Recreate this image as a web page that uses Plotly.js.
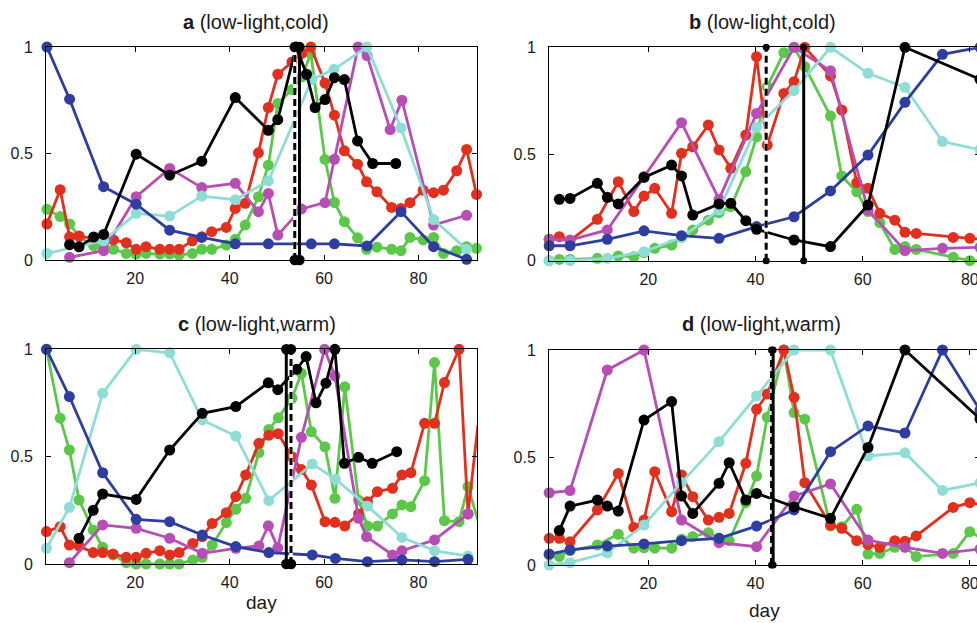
<!DOCTYPE html>
<html><head><meta charset="utf-8">
<script src="https://cdn.plot.ly/plotly-3.0.1.min.js"></script>
<style>html,body{margin:0;padding:0;overflow:hidden;background:#fff}#chart{width:990px;height:623px}</style>
</head><body><div id="chart"></div>
<script>
// ---------- Panel a (low-light, cold) ----------
const aWeekX = [1.3, 6.1, 13.3, 20.2, 27.3, 34.1, 41.2, 48.2, 57.3, 62.2, 69.1, 76.3, 83.2, 90.2];
const aBlue  = [1, 0.755, 0.344, 0.262, 0.14, 0.106, 0.076, 0.076, 0.076, 0.076, 0.066, 0.227, 0.0625, 0.003];
const aCyanX = [1.3, 13.3, 20.2, 27.3, 34.1, 41.2, 48.2, 57.4, 62.1, 69.1, 76.3, 83.2, 90.2];
const aCyan  = [0.031, 0.09, 0.219, 0.206, 0.3, 0.283, 0.371, 0.847, 0.895, 1.0, 0.62, 0.19, 0.05];
const aMagX  = [6.1, 13.3, 20.2, 27.3, 34.1, 41.2, 46.1, 48.2, 50.2, 55.2, 60.2, 62.2, 67.2, 69.1, 74.0, 76.5, 83.2, 90.2];
const aMag   = [0.0125, 0.044, 0.297, 0.43, 0.34, 0.36, 0.227, 0.3125, 0.117, 0.24, 0.269, 0.473, 1.0, 0.96, 0.612, 0.75, 0.164, 0.21];
const aBlackX = [6.1, 8.1, 11.2, 13.3, 20.2, 27.3, 34.1, 41.2, 48.2, 50.2, 54.1, 56.3, 58.1, 60.2, 62.2, 64.3, 67.1, 70.3, 75.2];
const aBlack  = [0.072, 0.062, 0.108, 0.12, 0.497, 0.398, 0.464, 0.7625, 0.609, 0.659, 1.0, 0.872, 0.716, 0.753, 0.856, 0.847, 0.559, 0.453, 0.453];
const aFastX = [1.3, 4.1, 6.1, 8.1, 11.2, 13.3, 15.4, 18.1, 20.2, 22.3, 25.2, 27.3, 29.3, 32.1, 34.1, 36.2, 39.3, 41.2, 43.3, 46.1, 48.2, 50.2, 53.2, 55.3, 57.2, 60.2, 62.2, 64.3, 67.1, 69.0, 71.2, 74.3, 76.3, 78.2, 81.0, 83.2, 85.3, 88.1, 90.2, 92.3];
const aRed   = [0.169, 0.33, 0.109, 0.1125, 0.1, 0.094, 0.094, 0.081, 0.05, 0.0625, 0.05, 0.05, 0.05, 0.09, 0.109, 0.133, 0.153, 0.242, 0.266, 0.503, 0.716, 0.872, 0.93, 0.97, 1.0, 0.83, 0.68, 0.5125, 0.45, 0.367, 0.32, 0.247, 0.242, 0.269, 0.328, 0.316, 0.328, 0.419, 0.519, 0.308];
const aGreen = [0.238, 0.204, 0.169, 0.11, 0.066, 0.06, 0.05, 0.031, 0.028, 0.031, 0.028, 0.028, 0.023, 0.031, 0.05, 0.05, 0.07, 0.097, 0.164, 0.297, 0.445, 0.735, 0.8, 0.86, 0.97, 0.472, 0.27, 0.18, 0.104, 0.05, 0.06, 0.05, 0.044, 0.106, 0.094, 0.106, 0.031, 0.044, 0.0625, 0.055];
const aDashedDay = 53.8, aSolidDay = 54.8;

// ---------- Panel b (low-light, cold) ----------
const bWeekX = [1.5, 5.4, 12.35, 19.2, 26.2, 33.2, 40.2, 47.2, 54.0, 61.0, 67.9, 74.9, 81.9];
const bBlue  = [0.07, 0.07, 0.1, 0.14, 0.117, 0.105, 0.16, 0.206, 0.327, 0.495, 0.742, 0.967, 1.0];
const bCyan  = [0, 0, 0.011, 0.042, 0.109, 0.2375, 0.625, 0.797, 1.0, 0.878, 0.8125, 0.558, 0.52];
const bMag   = [0.1, 0.097, 0.144, 0.395, 0.647, 0.2875, 0.69, 1.0, 0.89, 0.2375, 0.047, 0.058, 0.0625];
const bBlackX = [3.4, 5.4, 10.5, 12.35, 14.4, 19.2, 24.35, 26.2, 28.3, 33.2, 35.4, 38.2, 40.2, 47.2, 54.0, 61.0, 67.9, 81.9];
const bBlack  = [0.2875, 0.292, 0.3625, 0.297, 0.266, 0.39, 0.448, 0.397, 0.214, 0.266, 0.269, 0.1875, 0.147, 0.097, 0.066, 0.261, 1.0, 0.85];
const bFastX = [1.5, 3.4, 5.4, 10.5, 14.4, 17.3, 19.2, 21.2, 24.35, 26.2, 28.3, 31.2, 33.2, 35.4, 38.2, 40.2, 42.2, 45.3, 47.2, 49.2, 54.0, 56.1, 58.9, 61.0, 63.2, 66.0, 67.9, 70.0, 76.9, 80.0, 82.5];
const bRed   = [0.1, 0.1125, 0.094, 0.194, 0.37, 0.23, 0.303, 0.339, 0.222, 0.503, 0.534, 0.636, 0.519, 0.433, 0.589, 0.956, 0.542, 0.784, 0.839, 1.0, 0.866, 0.706, 0.366, 0.339, 0.222, 0.19, 0.133, 0.128, 0.109, 0.105, 0.1];
const bGreen = [0, 0.006, 0.006, 0.011, 0.022, 0.019, 0.0375, 0.058, 0.073, 0.109, 0.144, 0.19, 0.225, 0.253, 0.417, 0.58, 0.816, 0.975, 1.0, 0.909, 0.678, 0.397, 0.323, 0.23, 0.178, 0.053, 0.066, 0.053, 0.016, 0.0, 0.0];
const bDashedDay = 42.0, bSolidDay = 49.0;

// ---------- Panel c (low-light, warm) ----------
const cWeekX = [1.2, 6.05, 13.1, 20.2, 27.3, 34.2, 41.3, 48.3, 57.5, 62.4, 69.2, 76.5, 83.4, 90.5];
const cBlue  = [1.0, 0.78, 0.425, 0.208, 0.197, 0.135, 0.081, 0.053, 0.042, 0.026, 0.011, 0.019, 0.011, 0.022];
const cCyan  = [0.073, 0.264, 0.795, 1.0, 0.984, 0.671, 0.596, 0.295, 0.466, 0.395, 0.27, 0.124, 0.062, 0.037];
const cMagX  = [6.05, 13.1, 20.2, 27.3, 34.2, 41.3, 46.2, 48.2, 50.2, 55.2, 60.1, 62.3, 67.3, 69.0, 74.5, 76.5, 83.4, 90.5];
const cMag   = [0.006, 0.182, 0.166, 0.12, 0.05, 0.073, 0.084, 0.178, 0.075, 0.59, 1.0, 0.876, 0.213, 0.127, 0.042, 0.062, 0.112, 0.233];
const cBlackX = [8.1, 11.1, 13.1, 20.2, 27.3, 34.2, 41.3, 48.2, 50.2, 54.2, 56.2, 58.3, 60.4, 62.3, 64.3, 67.3, 70.2, 75.4];
const cBlack  = [0.12, 0.25, 0.326, 0.301, 0.531, 0.702, 0.733, 0.844, 0.812, 0.907, 0.966, 0.751, 0.842, 1.0, 0.469, 0.497, 0.469, 0.523];
const cFastX = [1.2, 4.1, 6.05, 8.1, 11.1, 13.1, 15.3, 18.1, 20.2, 22.3, 25.2, 27.3, 29.3, 32.2, 34.2, 36.3, 39.3, 41.3, 43.4, 46.2, 48.3, 50.3, 53.2, 55.2, 57.3, 60.2, 62.3, 64.4, 67.3, 69.2, 71.3, 74.5, 76.5, 78.4, 81.3, 83.4, 85.5, 88.6, 90.5, 92.6];
const cRed   = [0.151, 0.174, 0.0885, 0.084, 0.053, 0.053, 0.047, 0.031, 0.031, 0.05, 0.062, 0.042, 0.053, 0.096, 0.127, 0.189, 0.239, 0.314, 0.415, 0.562, 0.6, 0.607, 0.5, 0.44, 0.368, 0.197, 0.194, 0.177, 0.233, 0.29, 0.337, 0.3525, 0.415, 0.4255, 0.655, 0.655, 0.845, 1.0, 0.233, 0.648];
const cGreen = [1.0, 0.679, 0.531, 0.298, 0.158, 0.078, 0.042, 0.006, 0, 0, 0, 0, 0, 0.019, 0.031, 0.0885, 0.193, 0.255, 0.306, 0.519, 0.627, 0.681, 0.772, 0.888, 0.616, 0.546, 0.306, 0.825, 0.298, 0.177, 0.177, 0.233, 0.275, 0.267, 0.388, 0.938, 0.202, 0.197, 0.36, 0.202];
const cSolidDay = 52.0, cDashedDay = 53.0;

// ---------- Panel d (low-light, warm) ----------
const dWeekX = [1.5, 5.4, 12.35, 19.2, 26.2, 33.2, 40.2, 47.2, 54.0, 61.0, 67.9, 74.9, 81.9];
const dBlue  = [0.051, 0.07, 0.088, 0.098, 0.113, 0.124, 0.181, 0.256, 0.527, 0.647, 0.614, 1.0, 0.72];
const dCyan  = [0, 0.011, 0.057, 0.186, 0.383, 0.574, 0.786, 1.0, 1.0, 0.507, 0.522, 0.347, 0.382];
const dMag   = [0.336, 0.346, 0.907, 1.0, 0.209, 0.104, 0.085, 0.321, 0.377, 0.116, 0.082, 0.054, 0.074];
const dBlackX = [3.4, 5.4, 10.5, 12.35, 14.4, 19.2, 24.35, 26.2, 28.3, 33.2, 35.1, 38.2, 40.2, 47.2, 54.0, 61.0, 67.9, 81.9];
const dBlack  = [0.16, 0.274, 0.302, 0.274, 0.251, 0.674, 0.76, 0.321, 0.24, 0.38, 0.476, 0.302, 0.333, 0.271, 0.217, 0.547, 1.0, 0.68];
const dFastX = [1.5, 3.4, 5.4, 10.5, 14.4, 17.3, 19.2, 21.2, 24.35, 26.2, 28.3, 31.2, 33.2, 35.1, 38.2, 40.2, 42.2, 45.3, 47.2, 49.2, 54.0, 56.1, 58.9, 61.0, 63.2, 66.0, 67.9, 70.0, 76.9, 80.0, 82.5];
const dRed   = [0.124, 0.124, 0.108, 0.256, 0.426, 0.175, 0.209, 0.434, 0.248, 0.419, 0.318, 0.209, 0.222, 0.24, 0.473, 0.724, 0.795, 1.0, 0.78, 0.383, 0.186, 0.171, 0.113, 0.095, 0.082, 0.113, 0.11, 0.135, 0.268, 0.29, 0.28];
const dGreen = [0.047, 0.039, 0.067, 0.093, 0.143, 0.078, 0.08, 0.078, 0.078, 0.12, 0.132, 0.15, 0.124, 0.113, 0.29, 0.414, 0.687, 1.0, 0.709, 0.678, 0.181, 0.178, 0.259, 0.051, 0.054, 0.082, 0.085, 0.039, 0.054, 0.155, 0.12];
const dDashedDay = 43.0, dSolidDay = 43.3;

const vLineY = [0, 1];
const titles = ['<b>a</b> (low-light,cold)', '<b>b</b> (low-light,cold)', '<b>c</b> (low-light,warm)', '<b>d</b> (low-light,warm)'];
const xTicks = [20, 40, 60, 80];
const yTicks = [0, 0.5, 1];
const yTickText = ['0', '0.5', '1'];
const xLabel = 'day';

// ---------- styling ----------
const COL = {blue:'#2E3EA0', red:'#E2301E', green:'#5CC84A', mag:'#B84DB6', cyan:'#8EDDD6', black:'#000000'};
const W = 990, H = 623;
function series(x, y, color, ax, msize) {
  return {x:x, y:y, type:'scatter', mode:'lines+markers', xaxis:'x'+ax, yaxis:'y'+ax,
    cliponaxis:false, hoverinfo:'skip', showlegend:false,
    line:{color:color, width:2.8}, marker:{color:color, size:msize||11, line:{width:0}}};
}
function vline(day, ax, dashed, msize) {
  const out = [];
  if (dashed) {
    out.push({x:[day,day], y:vLineY, type:'scatter', mode:'lines', xaxis:'x'+ax, yaxis:'y'+ax,
      hoverinfo:'skip', showlegend:false, line:{color:'#ffffff', width:3.5}});
    out.push({x:[day,day], y:vLineY, type:'scatter', mode:'lines+markers', xaxis:'x'+ax, yaxis:'y'+ax,
      cliponaxis:false, hoverinfo:'skip', showlegend:false,
      line:{color:'#000', width:3, dash:'7px,4px'}, marker:{color:'#000', size:msize, line:{width:0}}});
  } else {
    out.push({x:[day,day], y:vLineY, type:'scatter', mode:'lines+markers', xaxis:'x'+ax, yaxis:'y'+ax,
      cliponaxis:false, hoverinfo:'skip', showlegend:false,
      line:{color:'#000', width:3}, marker:{color:'#000', size:msize, line:{width:0}}});
  }
  return out;
}
function panel(ax, d, ms) {
  return [
    series(d.fastX, d.green, COL.green, ax),
    series(d.fastX, d.red, COL.red, ax),
    series(d.magX, d.mag, COL.mag, ax),
    series(d.cyanX, d.cyan, COL.cyan, ax),
    series(d.blueX, d.blue, COL.blue, ax),
    series(d.blackX, d.black, COL.black, ax),
    ...vline(d.dashed, ax, true, ms),
    ...vline(d.solid, ax, false, ms)
  ];
}
const traces = [].concat(
  panel('', {fastX:aFastX, green:aGreen, red:aRed, magX:aMagX, mag:aMag, cyanX:aCyanX, cyan:aCyan, blueX:aWeekX, blue:aBlue, blackX:aBlackX, black:aBlack, dashed:aDashedDay, solid:aSolidDay}, 10.5),
  panel('2', {fastX:bFastX, green:bGreen, red:bRed, magX:bWeekX, mag:bMag, cyanX:bWeekX, cyan:bCyan, blueX:bWeekX, blue:bBlue, blackX:bBlackX, black:bBlack, dashed:bDashedDay, solid:bSolidDay}, 7),
  panel('3', {fastX:cFastX, green:cGreen, red:cRed, magX:cMagX, mag:cMag, cyanX:cWeekX, cyan:cCyan, blueX:cWeekX, blue:cBlue, blackX:cBlackX, black:cBlack, dashed:cDashedDay, solid:cSolidDay}, 10.5),
  panel('4', {fastX:dFastX, green:dGreen, red:dRed, magX:dWeekX, mag:dMag, cyanX:dWeekX, cyan:dCyan, blueX:dWeekX, blue:dBlue, blackX:dBlackX, black:dBlack, dashed:dDashedDay, solid:dSolidDay}, 7)
);

const FONT = 'Liberation Sans, Arial, Helvetica, sans-serif';
function xax(px0, px1, range, anchor) {
  return {domain:[px0/W, px1/W], range:range, anchor:anchor, tickvals:xTicks, ticks:'inside', ticklen:5,
    tickcolor:'#000', showline:true, linecolor:'#000', linewidth:1, mirror:'ticks', showgrid:false,
    zeroline:false, tickfont:{size:16, color:'#1a1a1a', family:FONT}, ticklabelstandoff:4, fixedrange:true};
}
function yax(top, bottom, anchor) {
  return {domain:[1-bottom/H, 1-top/H], range:[0,1], anchor:anchor, tickvals:yTicks, ticktext:yTickText,
    ticks:'inside', ticklen:5, tickcolor:'#000', showline:true, linecolor:'#000', linewidth:1, mirror:'ticks',
    showgrid:false, zeroline:false, tickfont:{size:16, color:'#1a1a1a', family:FONT}, ticklabelstandoff:9, fixedrange:true};
}
function note(text, px, py, size) {
  return {text:text, x:px/W, y:1-py/H, xref:'paper', yref:'paper', xanchor:'center', yanchor:'middle',
    showarrow:false, font:{size:size, color:'#1a1a1a', family:FONT}};
}
const rangeAC = [1.1, 92.4], rangeBD = [1.47, 81.9];
const layout = {
  width:W, height:H, autosize:false, margin:{l:0, r:0, t:0, b:0},
  paper_bgcolor:'#fff', plot_bgcolor:'#fff', showlegend:false,
  font:{family:FONT, color:'#1a1a1a'},
  xaxis: xax(46, 477, rangeAC, 'y'),   yaxis: yax(47, 260, 'x'),
  xaxis2: xax(549, 980, rangeBD, 'y2'), yaxis2: yax(47.3, 260.7, 'x2'),
  xaxis3: xax(46, 477, rangeAC, 'y3'), yaxis3: yax(349.3, 564, 'x3'),
  xaxis4: xax(549, 980, rangeBD, 'y4'), yaxis4: yax(350, 565, 'x4'),
  annotations: [
    note(titles[0], 256, 22, 20),
    note(titles[1], 762, 22, 20),
    note(titles[2], 257, 324, 20),
    note(titles[3], 761, 324, 20),
    note(xLabel, 261, 602, 19),
    note(xLabel, 764, 610, 19)
  ]
};
Plotly.newPlot('chart', traces, layout, {staticPlot:true, displayModeBar:false});
</script></body></html>
